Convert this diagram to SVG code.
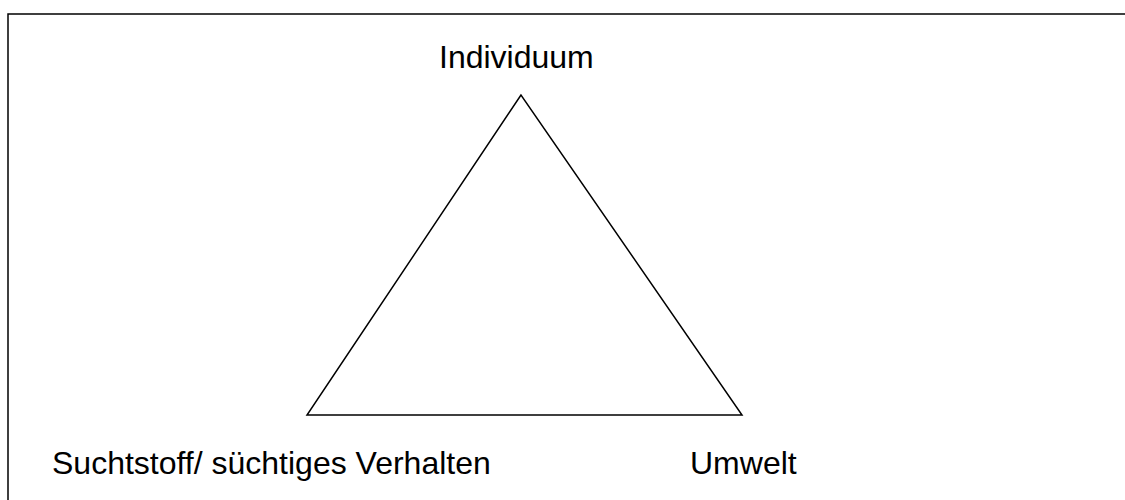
<svg xmlns="http://www.w3.org/2000/svg" width="1125" height="500" viewBox="0 0 1125 500">
<style>
.lbl{font-family:"Liberation Sans",Arial,sans-serif;font-size:32px;fill:#000}
.ln{fill:none;stroke:#000;stroke-width:1.5}
</style>
<rect width="1125" height="500" fill="#fff"/>
<g id="frame"><path class="ln" d="M8,520 V14 H1130" stroke-width="2"/></g>
<g id="connectors"><polygon class="ln" points="521,95 307,415 742,415"/></g>
<g id="node-individuum"><text class="lbl" x="439" y="68">Individuum</text></g>
<g id="node-suchtstoff"><text class="lbl" x="52" y="474">Suchtstoff/ süchtiges Verhalten</text></g>
<g id="node-umwelt"><text class="lbl" x="690" y="474">Umwelt</text></g>
</svg>
